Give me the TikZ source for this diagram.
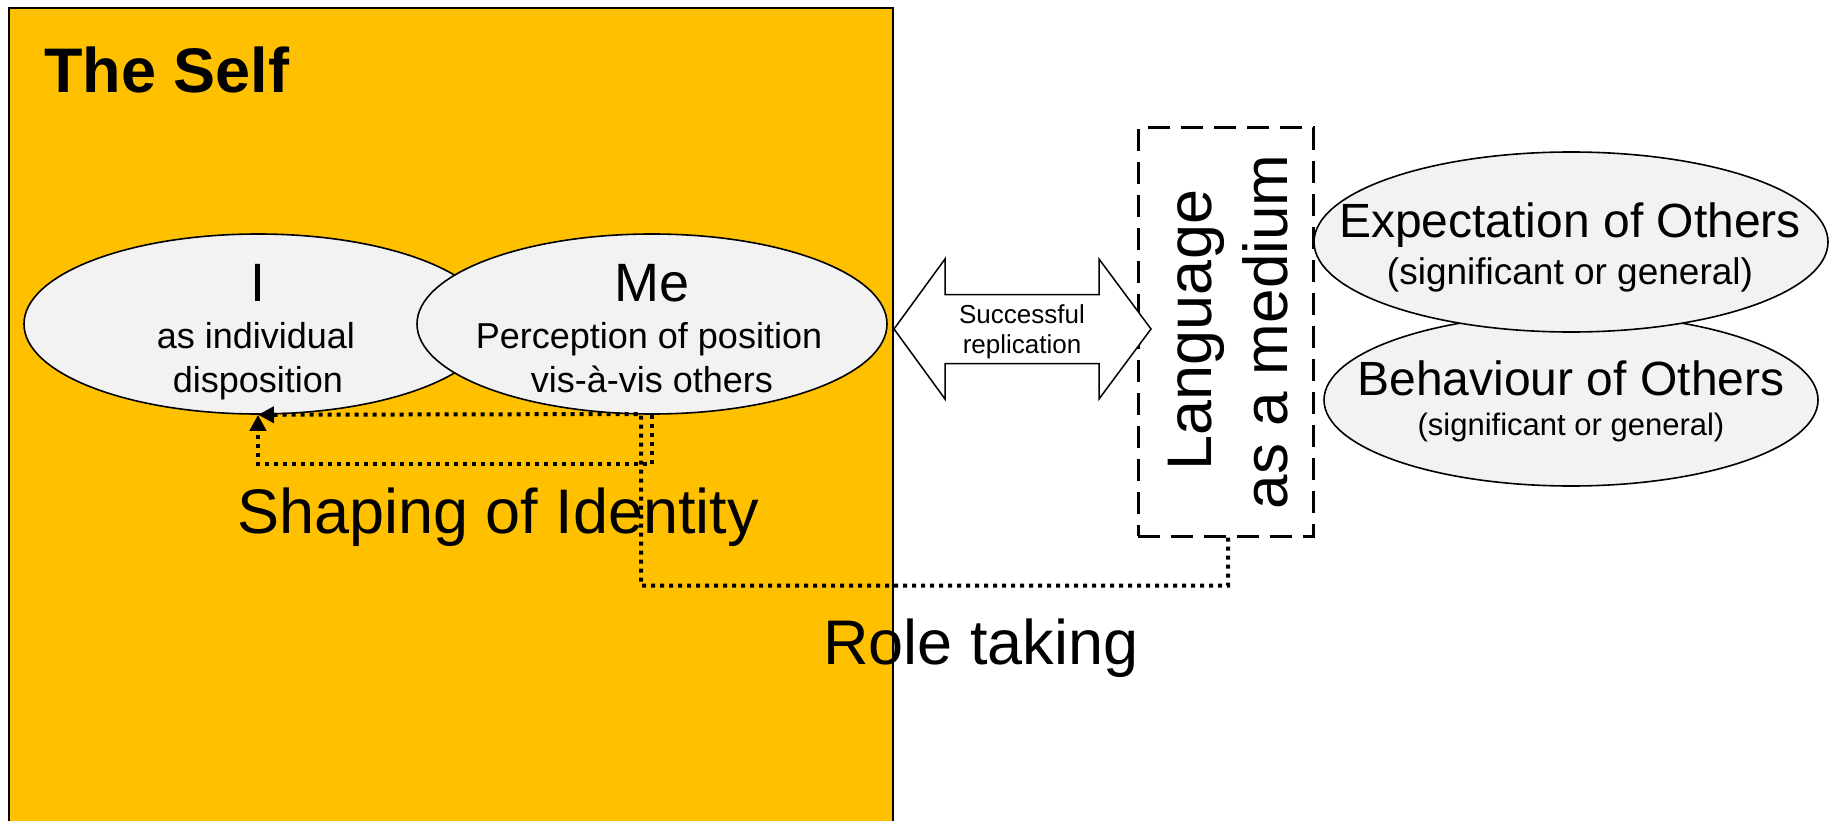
\documentclass[tikz,border=0pt]{standalone}
\usepackage{fontspec}
\setmainfont{Liberation Sans}
\usetikzlibrary{arrows.meta,shapes.geometric}
\definecolor{selfgold}{HTML}{FFC000}
\definecolor{ellgray}{HTML}{F2F2F2}
\newcommand{\fsz}[1]{\fontsize{#1}{#1}\selectfont}
\begin{document}
\begin{tikzpicture}[x=1pt,y=-1pt,
  ell/.style={ellipse, draw=black, fill=ellgray, line width=1.6pt, inner sep=0pt},
  txt/.style={anchor=base, inner sep=0pt},
  langbox/.style={draw=black, line width=3pt, dash pattern=on 22pt off 11pt, inner sep=0pt},
  dotline/.style={line width=4pt, dash pattern=on 4pt off 5pt, -{Triangle[length=16pt,width=16pt]}},
  arrowshape/.style={draw=black, fill=white, line width=1.5pt, line join=miter}]
\useasboundingbox (0,0) rectangle (1833,821);
% The Self area
\fill[selfgold] (9,8) rectangle (893,821);
\draw[line width=1.5pt] (9,821) -- (9,8) -- (893,8) -- (893,821);
\node[anchor=base west, inner sep=0pt, font=\bfseries\fsz{63}] (title) at (44,93) {The Self};
% I and Me
\node[ell, minimum width=468pt, minimum height=180pt] (I) at (258,324) {};
\node[ell, minimum width=470pt, minimum height=180pt] (Me) at (652,324) {};
\node[txt, font=\fsz{54}] (Itxt) at (258,301) {I};
\node[txt, font=\fsz{36}] (Itxt2) at (256,348) {as individual};
\node[txt, font=\fsz{36}] (Itxt3) at (258,392) {disposition};
\node[txt, font=\fsz{54}] (Metxt) at (652,301) {Me};
\node[txt, font=\fsz{36}] (Metxt2) at (649,348) {Perception of position};
\node[txt, font=\fsz{36}] (Metxt3) at (652,392) {vis-à-vis others};
% Others
\node[ell, minimum width=494pt, minimum height=172pt] (Beh) at (1571,400) {};
\node[ell, minimum width=514pt, minimum height=180pt] (Exp) at (1571,242) {};
\node[txt, font=\fsz{48}] (Exptxt) at (1570,237) {Expectation of Others};
\node[txt, font=\fsz{37}] (Exptxt2) at (1570,284) {(significant or general)};
\node[txt, font=\fsz{48}] (Behtxt) at (1571,395) {Behaviour of Others};
\node[txt, font=\fsz{31}] (Behtxt2) at (1571,435) {(significant or general)};
% Language box
\node[langbox, minimum width=175pt, minimum height=408pt] (lang) at (1225.5,332) {};
\node[txt, rotate=90, font=\fsz{63}] (langtxt) at (1211,330) {Language};
\node[txt, rotate=90, font=\fsz{62}] (langtxt2) at (1287,332) {as a medium};
% Double arrow
\draw[arrowshape] (894,329) -- (945,259) -- (945,294.5) -- (1099,294.5) -- (1099,259)
  -- (1151,329) -- (1099,399) -- (1099,363.5) -- (945,363.5) -- (945,399) -- cycle;
\node[txt, font=\fsz{26}] (repl1) at (1022,323) {Successful};
\node[txt, font=\fsz{26}] (repl2) at (1022,353) {replication};
% Connectors
\draw[dotline] (Me.south) -- ++(0,49) -| (I.south);
\draw[dotline] ([xshift=2.5pt]lang.south) -- ++(0,48) -| (641,414) -- (I.south);
% Labels
\node[txt, font=\fsz{63}] (shape) at (498,533) {Shaping of Identity};
\node[txt, font=\fsz{63}] (role) at (981,664) {Role taking};
\end{tikzpicture}
\end{document}
